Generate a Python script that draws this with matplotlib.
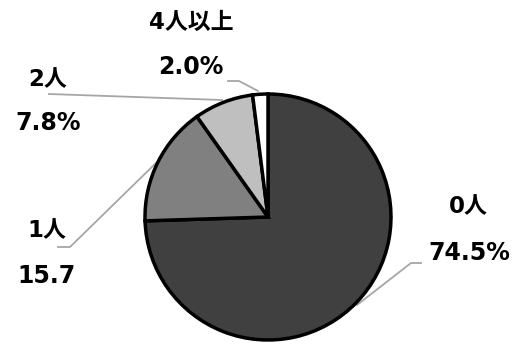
import matplotlib.pyplot as plt

# household members (share of respondents)
categories = ["0人", "1人", "2人", "4人以上"]
shares = [74.5, 15.7, 7.8, 2.0]
suffixes = ["%", "", "%", "%"]
colors = ["#404040", "#808080", "#bfbfbf", "#ffffff"]

W, H = 532, 345

plt.rcParams['font.family'] = ['DejaVu Sans', 'Noto Sans CJK JP']

fig = plt.figure(figsize=(W / 100, H / 100), dpi=100)
ax = fig.add_axes([0, 0, 1, 1])


def py(y):
    # pixel rows are counted from the top
    return H - y


ax.pie(shares, colors=colors, startangle=90, counterclock=False,
       center=(268, py(217)), radius=123, frame=True,
       wedgeprops=dict(edgecolor='black', linewidth=2.5))
ax.set_xlim(0, W)
ax.set_ylim(0, H)
ax.set_aspect('equal')
ax.axis('off')

# label anchors: (name x, name y, value x, value y)
label_pos = [
    (468, 207, 469, 253),
    (47, 231, 46, 276),
    (48, 80, 48, 123),
    (191, 22, 191, 67),
]
# leader lines from the labels to the wedges
leaders = [
    [(421, 263), (411, 263), (357, 305)],
    [(58, 247), (70, 247), (157, 162)],
    [(49, 94), (222, 100)],
    [(228, 81), (239, 81), (258, 91)],
]

for name, val, suf, (nx, ny, vx, vy) in zip(categories, shares, suffixes, label_pos):
    ax.text(nx, py(ny), name, ha='center', va='center',
            fontsize=16.5, fontweight='bold', color='black')
    ax.text(vx, py(vy), f"{val:.1f}{suf}", ha='center', va='center',
            fontsize=17, fontweight='bold', color='black')

for pts in leaders:
    xs = [p[0] for p in pts]
    ys = [py(p[1]) for p in pts]
    ax.plot(xs, ys, color='#a6a6a6', linewidth=1.3, zorder=0.5)

fig.savefig("out.png", dpi=100)
